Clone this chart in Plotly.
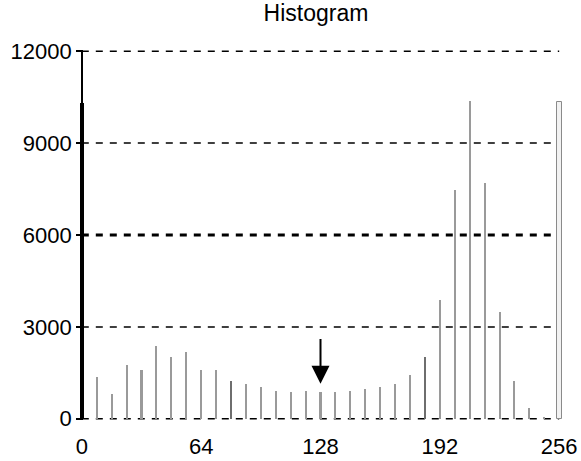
import plotly.graph_objects as go

# ---- data ----
bins = list(range(0, 257, 8))
counts = [10300, 1380, 800, 1760, 1590, 2360, 2020, 2190, 1590, 1580, 1220,
          1140, 1030, 920, 870, 920, 880, 880, 920, 980, 1040, 1150, 1420,
          2010, 3880, 7480, 10380, 7690, 3480, 1240, 350, 60, 10330]
y_ticks = [0, 3000, 6000, 9000, 12000]
x_ticks = [0, 64, 128, 192, 256]
title_text = "Histogram"
arrow_bin = 128
emphasized_bins = [80, 184]
heavy_grid = 6000

# ---- styles (derived) ----
n = len(bins)
widths, colors, lcolors, lwidths = [], [], [], []
for i, b in enumerate(bins):
    if i == 0:
        widths.append(2.4); colors.append("black"); lcolors.append("black"); lwidths.append(0)
    elif i == n - 1:
        widths.append(2.6); colors.append("#f2f2f2"); lcolors.append("#8a8a8a"); lwidths.append(1)
    elif b in emphasized_bins:
        widths.append(1.5); colors.append("#6e6e6e"); lcolors.append("#6e6e6e"); lwidths.append(0)
    else:
        widths.append(1.1); colors.append("#9a9a9a"); lcolors.append("#9a9a9a"); lwidths.append(0)

FONT = "Liberation Sans, Arial, sans-serif"
x_lo, x_hi = -1.5, 257.5
y_lo, y_hi = -40, 12040

fig = go.Figure()

# dashed grid lines (drawn from tick values)
for v in y_ticks:
    fig.add_shape(type="line", xref="x", yref="y", x0=0, x1=256, y0=v, y1=v,
                  line=dict(color="black", width=3 if v == heavy_grid else 1.5,
                            dash="7px,7px"), layer="below")

fig.add_trace(go.Bar(
    x=bins, y=counts, width=widths,
    marker=dict(color=colors, line=dict(color=lcolors, width=lwidths)),
    showlegend=False, hoverinfo="x+y",
))

fig.add_annotation(
    x=arrow_bin, y=1140, ax=arrow_bin, ay=2650, axref="x", ayref="y",
    xref="x", yref="y", text="", showarrow=True, arrowhead=2,
    arrowsize=1.8, arrowwidth=2, arrowcolor="black", standoff=0,
)

fig.update_layout(
    width=581, height=461,
    margin=dict(l=79, r=19, t=50, b=41, autoexpand=False),
    paper_bgcolor="white", plot_bgcolor="white",
    font=dict(family=FONT, color="black"),
    bargap=0,
    title=dict(text=title_text, x=316 / 581, xref="container", y=1 - 13 / 461,
               yref="container", yanchor="middle", xanchor="center",
               font=dict(size=23, family=FONT, color="black")),
    xaxis=dict(range=[x_lo, x_hi], tickmode="array", tickvals=x_ticks,
               ticktext=[str(v) for v in x_ticks], showgrid=False,
               zeroline=False, showline=False, ticks="", automargin=False,
               ticklabelstandoff=11,
               tickfont=dict(size=22, family=FONT, color="black")),
    yaxis=dict(range=[y_lo, y_hi], tickmode="array", tickvals=y_ticks,
               ticktext=[str(v) for v in y_ticks], automargin=False,
               anchor="free", position=(0 - x_lo) / (x_hi - x_lo),
               showline=True, linecolor="black", linewidth=1.5,
               ticks="outside", ticklen=5, tickwidth=1.5, tickcolor="black",
               showgrid=False, zeroline=False,
               tickfont=dict(size=22, family=FONT, color="black")),
)

fig.write_html(
    "out.html",
    config={"displayModeBar": False},
    post_script="document.body.style.margin='0';document.body.style.overflow='hidden';",
)
